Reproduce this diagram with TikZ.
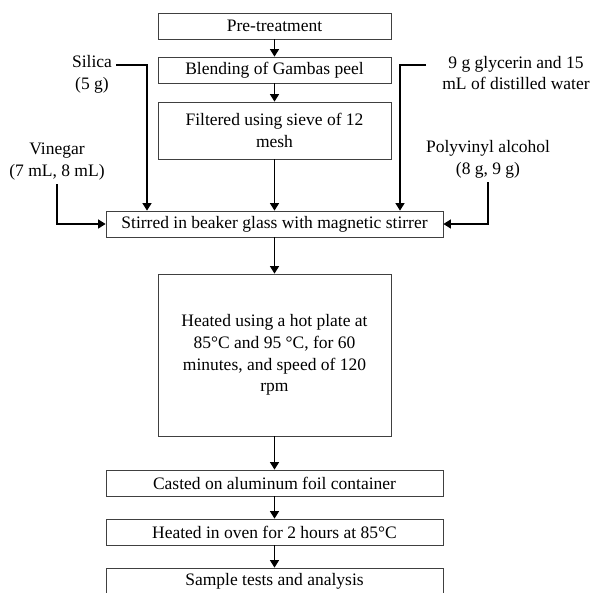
\documentclass[tikz,border=0pt]{standalone}
\usepackage{fontspec}
\setmainfont{Liberation Serif}
\usetikzlibrary{arrows.meta}

\begin{document}
\begin{tikzpicture}[x=1pt,y=-1pt,
box/.style={draw=black!75,line width=0.8pt,minimum height=26pt,inner sep=0pt,align=center,font=\fontsize{17.5}{21.7}\selectfont},
lbl/.style={inner sep=4pt,align=center,font=\fontsize{17.5}{21.7}\selectfont},
arr/.style={line width=1.4pt,-{Triangle[length=7.5pt,width=9pt]}}]
\useasboundingbox(0,0)rectangle(593,592);
\node[box,minimum width=233pt](pre)at(274.5,26){Pre-treatment};
\node[box,minimum width=233pt](blend)at(274.5,70){Blending of Gambas peel};
\node[box,minimum width=233pt,minimum height=57pt](filt)at(274.5,130.5){Filtered using sieve of 12\\mesh};
\node[box,minimum width=337pt](stir)at(274.5,224){Stirred in beaker glass with magnetic stirrer};
\node[box,minimum width=233pt,minimum height=162pt](hot)at(274.5,355){Heated using a hot plate at\\85°C and 95 °C, for 60\\minutes, and speed of 120\\rpm};
\node[box,minimum width=337pt](cast)at(274.5,483){Casted on aluminum foil container};
\node[box,minimum width=337pt](oven)at(274.5,532){Heated in oven for 2 hours at 85°C};
\node[box,minimum width=337pt](samp)at(274.5,581){Sample tests and analysis};
\node[lbl](silica)at(92,74.5){Silica\\(5 g)};
\node[lbl](vin)at(57,161.5){Vinegar\\(7 mL, 8 mL)};
\node[lbl](gly)at(516,73){9 g glycerin and 15\\mL of distilled water};
\node[lbl](pva)at(488,159){Polyvinyl alcohol\\(8 g, 9 g)};
\draw[arr](pre)--(blend);\draw[arr](blend)--(filt);\draw[arr](filt)--(stir);
\draw[arr](stir)--(hot);\draw[arr](hot)--(cast);\draw[arr](cast)--(oven);\draw[arr](oven)--(samp);
\draw[arr]([yshift=9.5pt]silica.east)-|([xshift=-127.5pt]stir.north);
\draw[arr]([xshift=-12pt,yshift=8pt]gly.west)-|([xshift=125.5pt]stir.north);
\draw[arr](vin.south)|-(stir.west);
\draw[arr](pva.south)|-(stir.east);
\end{tikzpicture}
\end{document}
